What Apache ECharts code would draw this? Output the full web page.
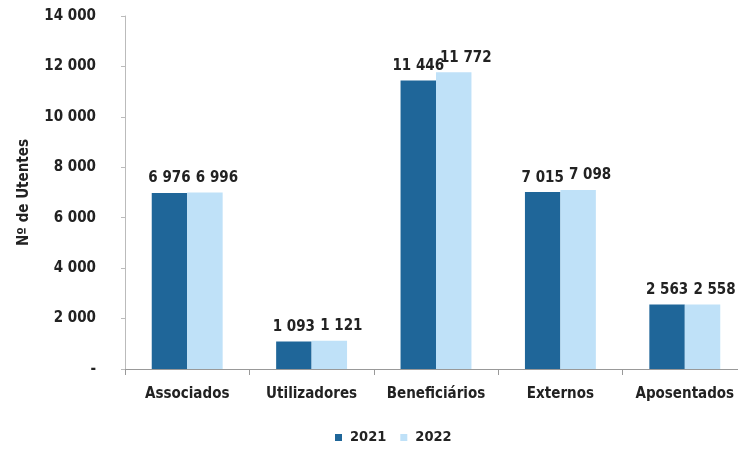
<!DOCTYPE html>
<html><head><meta charset="utf-8">
<script src="https://cdn.jsdelivr.net/npm/echarts@6/dist/echarts.min.js"></script>
<style>html,body{margin:0;padding:0;background:#fff;overflow:hidden}#c{width:748px;height:452px}</style>
</head><body><div id="c"></div>
<script>
const categories = ['Associados','Utilizadores','Beneficiários','Externos','Aposentados'];
const values2021 = [6976, 1093, 11446, 7015, 2563];
const values2022 = [6996, 1121, 11772, 7098, 2558];
const seriesNames = ['2021','2022'];

const FONT = '"DejaVu Sans Condensed","Liberation Sans Narrow",sans-serif';
function fmt(v){ if(v===0) return '-'; return String(v).replace(/\B(?=(\d{3})+(?!\d))/g,' '); }

const chart = echarts.init(document.getElementById('c'));
function lbl(dx){ return {show:true, position:'top', distance:7, offset:[dx,0], color:'#222', fontFamily:FONT, fontSize:15, fontWeight:'bold', formatter:p=>fmt(p.value)}; }
chart.setOption({
  animation:false,
  textStyle:{fontFamily:FONT},
  grid:{left:125, top:16, right:1, bottom:83},
  legend:{bottom:2, left:330, itemWidth:7, itemHeight:7, itemGap:14, icon:'rect',
    textStyle:{fontFamily:FONT, fontSize:14.5, fontWeight:'bold', color:'#222', padding:[0,0,0,3]}},
  xAxis:{type:'category', data:categories,
    axisLine:{lineStyle:{color:'#999'}}, axisTick:{show:true, length:6, lineStyle:{color:'#999'}},
    axisLabel:{interval:0, hideOverlap:false, color:'#222', fontFamily:FONT, fontSize:15, fontWeight:'bold', margin:18}},
  yAxis:{type:'value', min:0, max:14000, interval:2000,
    name:'Nº de Utentes', nameLocation:'middle', nameGap:93, nameRotate:90,
    nameTextStyle:{color:'#222', fontFamily:FONT, fontSize:15, fontWeight:'bold'},
    axisLine:{show:true, lineStyle:{color:'#bbb'}}, axisTick:{show:true, length:4, lineStyle:{color:'#bbb'}},
    splitLine:{show:false},
    axisLabel:{color:'#222', fontFamily:FONT, fontSize:15, fontWeight:'bold', margin:29, formatter:fmt}},
  series:[
    {name:seriesNames[0], type:'bar', data:values2021, barGap:'0%', barCategoryGap:'43%', itemStyle:{color:'#1f6699'}, label:lbl(0)},
    {name:seriesNames[1], type:'bar', data:values2022, itemStyle:{color:'#bfe1f8'}, label:lbl(12)}
  ]
});
</script></body></html>
